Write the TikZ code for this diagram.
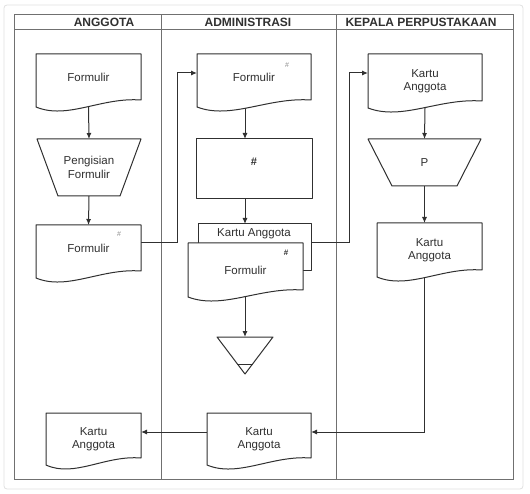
\documentclass[tikz,border=0pt]{standalone}
\usepackage{fontspec}
\setmainfont{Liberation Sans}
\usetikzlibrary{calc,arrows.meta,backgrounds}
\definecolor{ink}{HTML}{303030}
\definecolor{lane}{HTML}{707070}
\definecolor{rim}{HTML}{E0E0E0}
\definecolor{faint}{HTML}{8C8C8C}
\tikzset{
  box/.style={inner sep=0pt, outer sep=0pt, align=center, text=ink, font=\fontsize{11.5}{13.5}\selectfont},
  lifted/.style={text depth=7pt},
  shp/.style={draw=ink, fill=white, line width=1pt, line join=round},
  lanes/.style={draw=lane, line width=1pt},
  arr/.style={draw=ink, line width=1pt, -{Latex[length=6pt,width=5pt]}},
  head/.style={text=ink, font=\fontsize{12}{14}\selectfont\bfseries},
  hash/.style={text=faint, font=\fontsize{7}{8}\selectfont},
}
\newcommand{\docshape}[1]{%
  \draw[shp] (#1.north west) -- (#1.north east) -- ([yshift=7pt]#1.south east)
    .. controls ($(#1.south west)!0.62!(#1.south east)+(0,-10)$)
       and ($(#1.south west)!0.3!(#1.south east)+(0,13)$) .. (#1.south west) -- cycle;}
\newcommand{\trapshape}[2]{%
  \draw[shp] (#1.north west) -- (#1.north east) -- ([xshift=-#2]#1.south east)
    -- ([xshift=#2]#1.south west) -- cycle;}
\newcommand{\mergeshape}[1]{%
  \draw[shp] (#1.north west) -- (#1.north east) -- (#1.south) -- cycle;
  \draw[shp] ($(#1.north west)!0.73!(#1.south)$) -- ($(#1.north east)!0.73!(#1.south)$);}

\begin{document}
\begin{tikzpicture}[x=1pt,y=-1pt]
  \useasboundingbox (0,0) rectangle (530,494);
  % lane headers
  \node[head] (hAng) at (104,22.5) {ANGGOTA};
  \node[head] (hAdm) at (248,22.5) {ADMINISTRASI};
  \node[head] (hKep) at (421,22.5) {KEPALA PERPUSTAKAAN};

  % anggota
  \node[box, lifted, minimum width=105pt, minimum height=53pt] (f1) at (88.5,80.5) {Formulir};
  \node[box, minimum width=104pt, minimum height=57pt] (t1) at (89,167.5) {Pengisian\\Formulir};
  \node[box, lifted, minimum width=105pt, minimum height=53pt] (f2) at (88.5,251.5) {Formulir};
  \node[hash] (f2h) at ($(f2.north east)+(-22,9)$) {\#};
  \node[box, minimum width=95pt, minimum height=52pt] (ag3) at (93.5,439) {Kartu\\Anggota};

  % administrasi
  \node[box, lifted, minimum width=114pt, minimum height=53pt] (f3) at (254,80.5) {Formulir};
  \node[hash] (f3h) at ($(f3.north east)+(-24,11)$) {\#};
  \node[box, minimum width=116pt, minimum height=60pt] (r1) at (254,169) {};
  \node[box, font=\fontsize{11}{13}\selectfont\bfseries] (r1t) at (254,162) {\#};
  \node[box, minimum width=113pt, minimum height=47pt] (ka1) at (254.5,247.5) {};
  \node[box] (ka1t) at (254,234) {Kartu Anggota};
  \node[box, minimum width=115pt, minimum height=54pt] (f4) at (245.5,270) {Formulir};
  \node[box, font=\fontsize{8}{9}\selectfont\bfseries] (f4h) at ($(f4.north east)+(-17,10)$) {\#};
  \node[box, minimum width=56pt, minimum height=37pt] (m1) at (245,355.5) {};
  \node[box, minimum width=104pt, minimum height=52pt] (ad2) at (259,439) {Kartu\\Anggota};

  % kepala perpustakaan
  \node[box, minimum width=114pt, minimum height=54pt] (kp1) at (425,81) {Kartu\\Anggota};
  \node[box, minimum width=113pt, minimum height=47pt] (tP) at (424.5,162.5) {P};
  \node[box, minimum width=105pt, minimum height=54pt] (kp2) at (429.5,250) {Kartu\\Anggota};

  \begin{pgfonlayer}{background}
    \draw[rim, line width=0.8pt, rounded corners=3pt] (4,5) rectangle (523,489);
    \draw[lanes] (14,15) rectangle (513,479);
    \draw[lanes] (14,30) -- (513,30);
    \draw[lanes] (161,15) -- (161,479);
    \draw[lanes] (336,15) -- (336,479);

    % connectors
    \draw[arr] (f1.south) -- (t1.north);
    \draw[arr] (t1.south) -- (f2.north);
    \draw[arr] ([yshift=9pt]f2.east) -- ++(36,0) |- ([yshift=7.5pt]f3.west);
    \draw[arr] ([xshift=-9pt]f3.south) -- ([xshift=-9pt]r1.north);
    \draw[arr] ([xshift=-9pt]r1.south) -- ([xshift=-9.5pt]ka1.north);
    \draw[arr] (f4.south -| m1.north) -- (m1.north);
    \draw[arr] ([yshift=4.5pt]ka1.east) -- ++(38,0) |- ([yshift=8pt]kp1.west);
    \draw[arr] (kp1.south) -- (tP.north);
    \draw[arr] (tP.south) -- (tP.south |- kp2.north);
    \draw[arr] (kp2.south -| tP.south) |- ([yshift=7pt]ad2.east);
    \draw[arr] ([yshift=7pt]ad2.west) -- ([yshift=7pt]ag3.east);

    % shapes
    \docshape{f1}
    \trapshape{t1}{21pt}
    \docshape{f2}
    \docshape{ag3}
    \docshape{f3}
    \draw[shp] (r1.north west) rectangle (r1.south east);
    \draw[shp] (ka1.north west) rectangle (ka1.south east);
    \docshape{f4}
    \mergeshape{m1}
    \docshape{ad2}
    \docshape{kp1}
    \trapshape{tP}{24pt}
    \docshape{kp2}
  \end{pgfonlayer}
\end{tikzpicture}
\end{document}
